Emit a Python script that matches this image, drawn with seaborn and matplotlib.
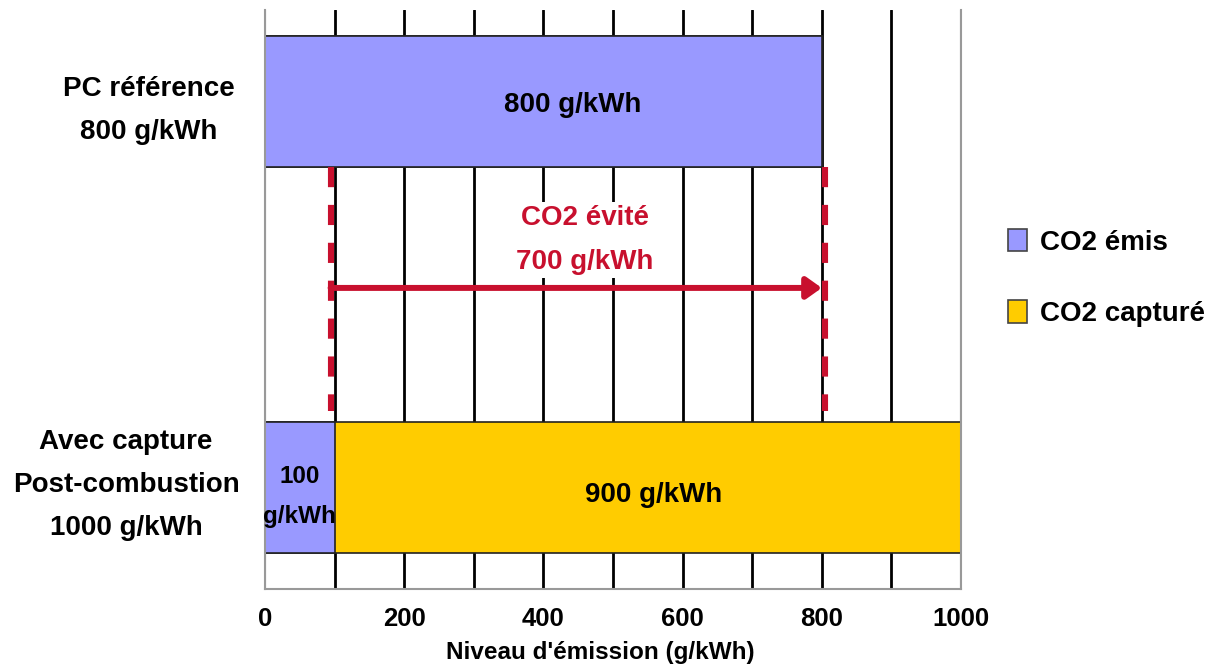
import matplotlib
matplotlib.use("Agg")
import matplotlib.pyplot as plt
from matplotlib.patches import Patch
import matplotlib.transforms as mtransforms
import seaborn as sns
import pandas as pd

# ---- data ----
categories = ["PC référence\n800 g/kWh", "Avec capture\nPost-combustion\n1000 g/kWh"]
co2_emis = [800, 100]
co2_capture = [0, 900]
co2_evite = 700
evite_from = 100
evite_to = 800
xtick_values = list(range(0, 1001, 100))
xtick_labels = ["0", "", "200", "", "400", "", "600", "", "800", "", "1000"]
legend_labels = ["CO2 émis", "CO2 capturé"]
x_label = "Niveau d'émission (g/kWh)"

BLUE = "#9999FF"
YELLOW = "#FFCC00"
RED = "#C8102E"

sns.set_style("white")
plt.rcParams["font.family"] = ["Liberation Sans", "DejaVu Sans"]
plt.rcParams["font.weight"] = "bold"
plt.rcParams["text.color"] = "black"
plt.rcParams["axes.labelcolor"] = "black"
plt.rcParams["xtick.color"] = "black"
plt.rcParams["ytick.color"] = "black"

df = pd.DataFrame({
    "cat": categories,
    "emis": co2_emis,
    "total": [e + c for e, c in zip(co2_emis, co2_capture)],
})

fig = plt.figure(figsize=(12.15, 6.68), dpi=100)
W, H = 1215, 668
ax = fig.add_axes([265 / W, 1 - 589 / H, (961 - 265) / W, (589 - 10) / H])

bw = 0.34
sns.barplot(data=df, y="cat", x="total", orient="h", color=YELLOW, width=bw,
            edgecolor="#222222", linewidth=1.2, errorbar=None, ax=ax, saturation=1)
sns.barplot(data=df, y="cat", x="emis", orient="h", color=BLUE, width=bw,
            edgecolor="#222222", linewidth=1.2, errorbar=None, ax=ax, saturation=1)

# bar labels
blue_container = ax.containers[1]
lbls = [f"{v} g/kWh" if v >= 300 else f"{v}\ng/kWh" for v in co2_emis]
texts = ax.bar_label(blue_container, labels=lbls, label_type="center",
                     fontsize=20, fontweight="bold", color="black")
for t, v in zip(texts, co2_emis):
    if v < 300:
        t.set_fontsize(17.5)
        t.set_linespacing(1.95)
        t.xyann = (0, -6)
    else:
        t.xyann = (21, -2)
for i, (e, c) in enumerate(zip(co2_emis, co2_capture)):
    if c > 0:
        ax.annotate(f"{c} g/kWh", xy=(e + c / 2, i), xytext=(4, -5),
                    textcoords="offset points", ha="center", va="center",
                    fontsize=20, fontweight="bold", color="black")

ax.set_xlim(0, 1000)
ax.set_ylim(1 + 0.262, -0.238)

ax.set_xticks(xtick_values)
ax.set_xticklabels(xtick_labels, fontsize=18.5, fontweight="bold")
ax.tick_params(axis="x", length=0, pad=13)
ax.xaxis.grid(True, color="black", linewidth=2)
ax.yaxis.grid(False)
ax.set_axisbelow(True)
for x, gl in zip(xtick_values, ax.get_xgridlines()):
    if x in (0, 1000):
        gl.set_color("#999999")
        gl.set_linewidth(1.5)

ax.set_xlabel(x_label, fontsize=17.5, fontweight="bold")
ax.xaxis.set_label_coords((600 - 265) / 696, -(653 - 589) / 579, transform=ax.transAxes)
ax.xaxis.label.set_va("center")
ax.set_ylabel("")
ax.tick_params(axis="y", length=0)
for tick, pad in zip(ax.yaxis.get_major_ticks(), [83.5, 100]):
    tick.set_pad(pad)
for t, dy in zip(ax.get_yticklabels(), [3, 14]):
    t.set_horizontalalignment("center")
    t.set_multialignment("center")
    t.set_fontsize(20)
    t.set_fontweight("bold")
    t.set_linespacing(1.84)
    t.set_transform(t.get_transform() +
                    mtransforms.ScaledTranslation(0, dy / 100, fig.dpi_scale_trans))

for side in ["left", "right", "bottom"]:
    ax.spines[side].set_color("#999999")
    ax.spines[side].set_linewidth(1.5)
ax.spines["top"].set_visible(False)

# avoided CO2 annotation
y_top = 0 + bw / 2
y_bot = 0.80
for xv, dx in [(evite_from, -4), (evite_to, 3)]:
    tr = ax.transData + mtransforms.ScaledTranslation(dx / 100, 0, fig.dpi_scale_trans)
    ax.plot([xv, xv], [y_top, y_bot], color=RED, linewidth=4.4,
            linestyle=(0, (3.3, 2.9)), solid_capstyle="butt",
            dash_capstyle="butt", transform=tr, zorder=3)
y_arrow = 0.482
tr_a = ax.transData + mtransforms.ScaledTranslation(-4 / 100, 0, fig.dpi_scale_trans)
ax.annotate("", xy=(evite_to, y_arrow), xytext=(evite_from, y_arrow),
            xycoords=ax.transData, textcoords=tr_a,
            arrowprops=dict(arrowstyle="-|>,head_length=0.45,head_width=0.32",
                            color=RED, lw=4.3, mutation_scale=20,
                            shrinkA=0, shrinkB=0), zorder=4)
ax.annotate(f"CO2 évité\n{co2_evite} g/kWh",
            xy=((evite_from + evite_to) / 2, 0.358), xytext=(5, 0),
            textcoords="offset points",
            ha="center", va="center", multialignment="center",
            fontsize=20, fontweight="bold", color=RED, linespacing=1.88,
            bbox=dict(facecolor="white", edgecolor="none", pad=2), zorder=3)

handles = [Patch(facecolor=BLUE, edgecolor="#444444", linewidth=1.2),
           Patch(facecolor=YELLOW, edgecolor="#444444", linewidth=1.2)]
fig.legend(handles, legend_labels, loc="center left",
           bbox_to_anchor=(1008 / W, 1 - 278 / H), frameon=False,
           borderpad=0, borderaxespad=0, handlelength=0.68, handleheight=0.86,
           handletextpad=0.47, labelspacing=1.6,
           prop=dict(size=20, weight="bold"))

fig.savefig("out.png", dpi=100)
